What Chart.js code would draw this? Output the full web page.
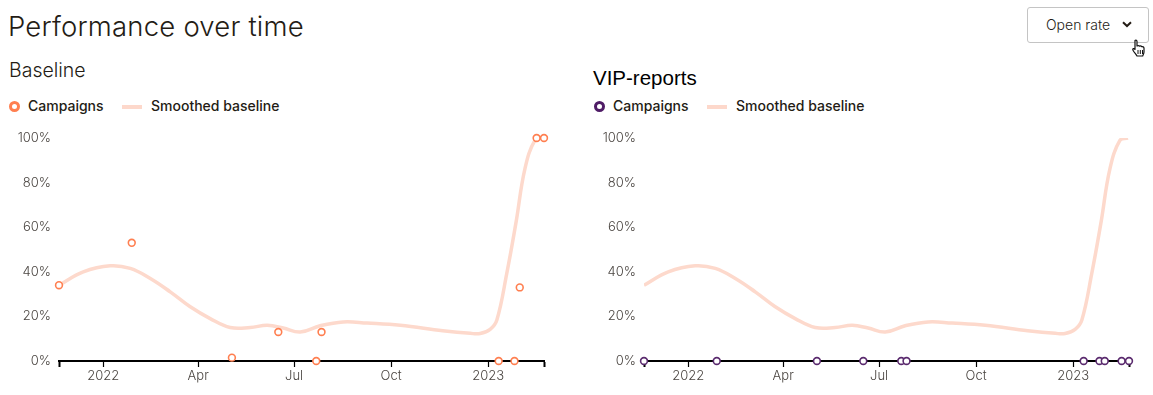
<!DOCTYPE html>
<html><head><meta charset="utf-8">
<script src="https://cdn.jsdelivr.net/npm/chart.js@4"></script>
<style>
html,body{margin:0;padding:0;background:#fff;width:1153px;height:395px;overflow:hidden;font-family:Inter,"Noto Sans",sans-serif;color:#241c15}
.abs{position:absolute;white-space:nowrap}
h1,h2{margin:0;font-weight:300}
#title{left:8px;top:8px;font-size:27.5px;line-height:36px;letter-spacing:.2px}
#t1{left:9px;top:58px;font-size:19.500px;line-height:24px}
#t2{left:593px;top:66px;font:400 20.500px/24px "Liberation Sans",Arial,sans-serif;color:#000}
#btn{left:1027px;top:7px;width:120px;height:34px;border:1px solid #c4c4c4;border-radius:3px;background:#fff}
#btn span{position:absolute;left:18px;top:8px;font-size:14px;line-height:18px;font-weight:300;color:#241c15}
#btn svg{position:absolute;left:94px;top:13px}
#hand{left:1131px;top:39px}
.lg{position:absolute;font-size:14px;font-weight:500;line-height:18px;top:97px;color:#241c15}
.dot{position:absolute;top:101px;width:5px;height:5px;border-radius:50%;background:#fff;border:3px solid}
.bar{position:absolute;top:105px;width:20px;height:4px}
canvas{position:absolute;top:125px}
</style></head><body>
<h1 class="abs" id="title">Performance over time</h1>
<div class="abs" id="btn"><span>Open rate</span><svg width="10" height="7" viewBox="0 0 10 7"><path d="M1 1.2 L5 5 L9 1.2" fill="none" stroke="#241c15" stroke-width="2"/></svg></div>
<svg class="abs" id="hand" width="16" height="19" viewBox="0 0 16 19"><path d="M4 1.5c1-.8 2 0 2 1V7c1-.6 2-.5 2.500.2.900-.4 1.800-.2 2.200.5 1-.3 2.300.3 2.300 1.500v3.500c0 1.800-.8 2.600-1.300 4.300H6c-.6-1.500-2-2.800-3.600-5-.8-1.100-.9-2 0-2.400.7-.2 1.300.3 1.600.9z" fill="#fff" stroke="#111" stroke-width="1.200" stroke-linejoin="round"/><path d="M7 11v4M9.300 11v4M11.500 11v4" stroke="#111" stroke-width="1"/></svg>
<h2 class="abs" id="t1">Baseline</h2>
<h2 class="abs" id="t2">VIP-reports</h2>
<canvas id="c1" width="570" height="260" style="left:0;width:570px;height:260px"></canvas>
<canvas id="c2" width="570" height="260" style="left:585px;width:570px;height:260px"></canvas>
<script>
// x values are days counted from 2022-01-01
const campaignDays = [-42, 27, 122, 166, 202, 207, 375, 390, 395, 411, 418];
const baselineCampaigns = [34, 53, 1.5, 13, 0, 13, 0, 0, 33, 100, 100];
const vipCampaigns = [0, 0, 0, 0, 0, 0, 0, 0, 0, 0, 0];
const smoothDays = [-42,-19,6.6,25.6,44.6,63.5,82.5,101.4,120.4,139.4,155.5,170.6,186.8,205.7,227.5,250.3,281.6,322,348,357.4,366.9,373.3,382.7,391.3,400,409.5,417];
const smoothValues = [34,40,42.7,41.5,37,31,24.3,19,15,15,16,14.8,13,15.8,17.5,17,16,13.6,12.4,12.3,14.2,18.4,39.3,61.7,86.4,99,100];
const xTickDays = [-42, 0, 90, 181, 273, 365, 418];
const xTickLabels = ['', '2022', 'Apr', 'Jul', 'Oct', '2023', ''];
const yTicks = [0, 20, 40, 60, 80, 100];
const legendNames = ['Campaigns', 'Smoothed baseline'];

const FONT = 'Inter, "Noto Sans", sans-serif';
const TICK = '#4a4541';
function pairs(xs, ys){ return xs.map((x, i) => ({x, y: ys[i]})); }

function legend(ox, color){
  const add = (cls, left, css, text) => {
    const e = document.createElement('div');
    e.className = cls; e.style.left = (ox + left) + 'px';
    Object.assign(e.style, css || {});
    if (text) e.textContent = text;
    document.body.appendChild(e);
  };
  add('dot', 9, {borderColor: color});
  add('lg', 28, null, legendNames[0]);
  add('bar', 122, {background: '#fdd8cb'});
  add('lg', 151, null, legendNames[1]);
}

function make(id, values, color){
  new Chart(document.getElementById(id), {
    type: 'line',
    data: { datasets: [
      { label: legendNames[1], data: pairs(smoothDays, smoothValues), borderColor: '#fdd9cc', borderWidth: 3.5,
        pointRadius: 0, tension: 0.4, fill: false, order: 2 },
      { label: legendNames[0], data: pairs(campaignDays, values), showLine: false, borderColor: color,
        backgroundColor: '#fff', pointRadius: 3.4, pointBorderWidth: 1.6, pointBackgroundColor: '#fff',
        pointBorderColor: color, clip: false, order: 1 }
    ]},
    options: {
      responsive: false, animation: false, devicePixelRatio: 1,
      layout: { padding: { top: 13, right: 26, left: 0, bottom: 0 } },
      plugins: { legend: { display: false }, tooltip: { enabled: false } },
      scales: {
        x: { type: 'linear', min: xTickDays[0], max: xTickDays[xTickDays.length - 1],
          afterBuildTicks: s => { s.ticks = xTickDays.map(v => ({value: v})); },
          afterFit: s => { s.height = 24; },
          border: { display: true, color: '#000', width: 2 },
          grid: { drawOnChartArea: false, drawTicks: true, tickLength: 6, tickColor: '#000',
            tickWidth: c => (c.index === 0 || c.index === xTickDays.length - 1) ? 2 : 1.2 },
          ticks: { autoSkip: false, maxRotation: 0, padding: 1, color: TICK, font: { family: FONT, size: 13, weight: 300 },
            callback: (v, i) => xTickLabels[i] }
        },
        y: { min: 0, max: 100,
          afterBuildTicks: s => { s.ticks = yTicks.map(v => ({value: v})); },
          afterFit: s => { s.width = 59; s.paddingTop = 0; s.paddingBottom = 0; },
          border: { display: false },
          grid: { display: false, drawTicks: false },
          ticks: { padding: 8, color: TICK, font: { family: FONT, size: 13, weight: 300 }, callback: v => v + '%' }
        }
      }
    }
  });
}
legend(0, '#ff7f50');
legend(585, '#4f1c66');
make('c1', baselineCampaigns, '#ff7f50');
make('c2', vipCampaigns, '#5a2a6e');
</script>
</body></html>
